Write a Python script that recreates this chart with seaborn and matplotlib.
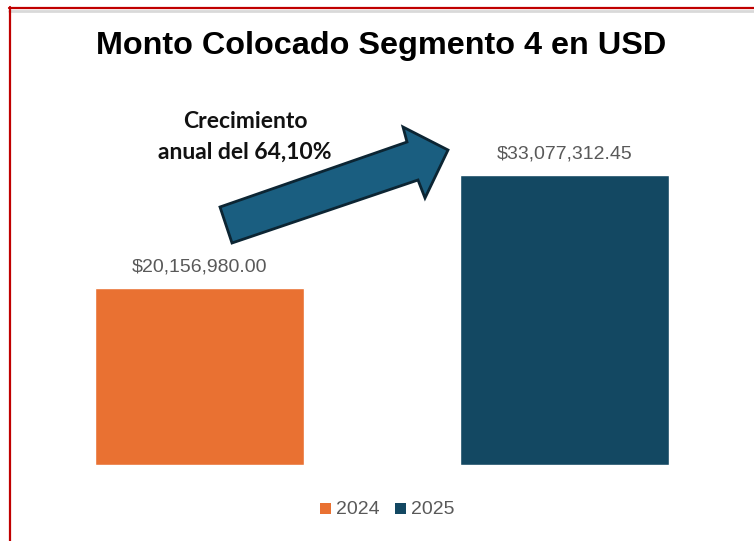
import matplotlib
matplotlib.use("Agg")
import matplotlib.pyplot as plt
from matplotlib.patches import Polygon
from matplotlib.lines import Line2D
import seaborn as sns
import pandas as pd

years = ["2024", "2025"]
amounts = [20156980.00, 33077312.45]
colors = ["#E97132", "#134862"]
title = "Monto Colocado Segmento 4 en USD"
growth_text = "Crecimiento\nanual del 64,10%"

W, H = 754, 541
sns.set_theme(style="white")
plt.rcParams["font.family"] = ["Liberation Sans", "DejaVu Sans"]

fig = plt.figure(figsize=(W / 100, H / 100), dpi=100)
fig.patch.set_facecolor("white")

def fx(px):
    return px / W

def fy(py):
    return 1 - py / H

ax = fig.add_axes([fx(17), fy(465), fx(747) - fx(17), fy(100) - fy(465)])
df = pd.DataFrame({"year": years, "amount": amounts})
sns.barplot(data=df, x="year", y="amount", hue="year", palette=colors,
            width=0.573, dodge=False, legend=False, ax=ax, saturation=1)
ax.set_xlim(-0.5, 1.5)
ax.set_ylim(0, 41.67e6)
ax.set_xlabel("")
ax.set_ylabel("")
ax.set_xticks([])
ax.set_yticks([])
for s in ax.spines.values():
    s.set_visible(False)
ax.patch.set_alpha(0)

for i, v in enumerate(amounts):
    ax.annotate(f"${v:,.2f}", (i, v), xytext=(0, 9), textcoords="offset points",
                ha="center", va="bottom", fontsize=14, color="#595959")

# Title
fig.text(fx(381), fy(46), title, ha="center", va="center",
         fontsize=23.3, fontweight="bold", color="black")

# Growth note and block arrow
fig.text(fx(245), fy(137), growth_text, ha="center", va="center",
         fontsize=16.5, fontweight="bold", color="#111111",
         family=["Lato", "DejaVu Sans"], linespacing=1.6)

arrow_pts = [(220, 207), (407, 142), (403, 127), (448, 150),
             (425, 198), (418, 180), (232, 243)]
fig.add_artist(Polygon([(fx(x), fy(y)) for x, y in arrow_pts], closed=True,
                       transform=fig.transFigure, facecolor="#1A5E80",
                       edgecolor="#0C2533", linewidth=2, joinstyle="miter"))

# Legend
for (x0, lab, c) in [(320, "2024", colors[0]), (395, "2025", colors[1])]:
    fig.add_artist(Polygon([(fx(x0), fy(503)), (fx(x0 + 11), fy(503)),
                            (fx(x0 + 11), fy(514)), (fx(x0), fy(514))],
                           closed=True, transform=fig.transFigure,
                           facecolor=c, edgecolor="none"))
    fig.text(fx(x0 + 16), fy(509), lab, ha="left", va="center",
             fontsize=14, color="#595959")

# Frame lines
fig.add_artist(Line2D([fx(9), 1], [fy(10.5), fy(10.5)], transform=fig.transFigure,
                      color="#D9D9D9", linewidth=2))
fig.add_artist(Line2D([fx(9), 1], [fy(8), fy(8)], transform=fig.transFigure,
                      color="#C00000", linewidth=1.6))
fig.add_artist(Line2D([fx(9.8), fx(9.8)], [fy(7.2), 0], transform=fig.transFigure,
                      color="#C00000", linewidth=1.6))

fig.savefig("out.png", dpi=100, facecolor="white")
